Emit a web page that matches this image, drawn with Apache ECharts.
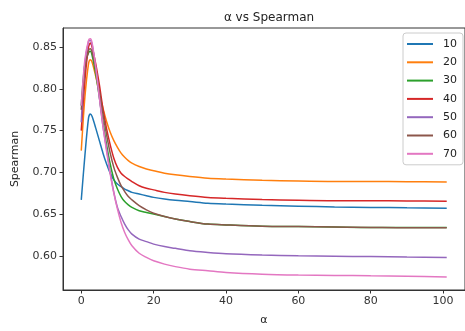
<!DOCTYPE html>
<html>
<head>
<meta charset="utf-8">
<script src="https://cdn.jsdelivr.net/npm/echarts@6/dist/echarts.min.js"></script>
<style>html,body{margin:0;padding:0;background:#fff;}#c{width:465px;height:331px;}</style>
</head>
<body>
<div id="c"></div>
<script>
const alphas = [0,1,2,2.5,3,4,5,6,7,8,9,10,11,12,13,14,16,18,20,23,26,30,35,40,50,60,70,80,90,101];
const seriesNames = ['10','20','30','40','50','60','70'];
const s10 = [0.667,0.720,0.765,0.770,0.767,0.753,0.738,0.723,0.710,0.699,0.691,0.686,0.683,0.680,0.678,0.676,0.674,0.672,0.670,0.668,0.6665,0.665,0.663,0.662,0.6605,0.6595,0.6585,0.658,0.6575,0.657];
const s20 = [0.726,0.790,0.830,0.835,0.832,0.815,0.795,0.777,0.761,0.748,0.738,0.730,0.723,0.718,0.714,0.711,0.707,0.704,0.702,0.699,0.697,0.695,0.693,0.692,0.6905,0.6895,0.689,0.689,0.6888,0.6885];
const s30 = [0.780,0.830,0.843,0.845,0.840,0.818,0.790,0.760,0.733,0.710,0.692,0.680,0.671,0.665,0.661,0.658,0.654,0.652,0.650,0.647,0.644,0.641,0.638,0.637,0.6355,0.635,0.6345,0.634,0.634,0.6338];
const s40 = [0.750,0.810,0.850,0.855,0.850,0.830,0.805,0.776,0.752,0.733,0.717,0.706,0.699,0.695,0.692,0.689,0.684,0.681,0.679,0.676,0.674,0.672,0.670,0.669,0.6675,0.6665,0.666,0.666,0.6658,0.6655];
const s50 = [0.760,0.830,0.857,0.858,0.853,0.825,0.790,0.755,0.728,0.700,0.676,0.658,0.647,0.638,0.631,0.626,0.620,0.617,0.614,0.611,0.609,0.606,0.604,0.6025,0.601,0.600,0.5995,0.599,0.5985,0.598];
const s60 = [0.775,0.825,0.846,0.848,0.844,0.824,0.797,0.770,0.745,0.723,0.706,0.694,0.684,0.677,0.671,0.667,0.660,0.655,0.651,0.647,0.644,0.641,0.638,0.637,0.6355,0.635,0.6345,0.634,0.6335,0.6335];
const s70 = [0.780,0.835,0.858,0.860,0.855,0.826,0.790,0.755,0.725,0.698,0.675,0.656,0.640,0.628,0.619,0.612,0.603,0.598,0.594,0.590,0.587,0.584,0.582,0.580,0.578,0.577,0.5765,0.576,0.5755,0.5745];
const xTicks = [0,20,40,60,80,100];
const yTicks = [0.60,0.65,0.70,0.75,0.80,0.85];
const colors = ['#1f77b4','#ff7f0e','#2ca02c','#d62728','#9467bd','#8c564b','#e377c2'];

const allSeries = [s10,s20,s30,s40,s50,s60,s70];
const font = 'DejaVu Sans';
const chart = echarts.init(document.getElementById('c'), null, {renderer:'canvas'});
chart.setOption({
  animation:false,
  backgroundColor:'#fff',
  color: colors,
  title:{text:'α vs Spearman', left:264, top:7, textAlign:'center',
    textStyle:{fontFamily:font, fontSize:12, fontWeight:'normal', color:'#222'}},
  grid:{left:63, right:-4, top:28, bottom:39, show:true, borderColor:'#333', borderWidth:1},
  legend:{
    orient:'vertical', left:403, top:33, data:seriesNames,
    icon:'rect', itemWidth:26, itemHeight:2, itemGap:4.3,
    textStyle:{fontFamily:font, fontSize:11, color:'#222', lineHeight:14, padding:[0,0,0,5]},
    borderColor:'#ccc', borderWidth:1, borderRadius:3, padding:[4,6,4,4], backgroundColor:'#fff'
  },
  xAxis:{type:'value', min:-5.05, max:106.05, name:'α', nameLocation:'middle', nameGap:25,
    nameTextStyle:{fontFamily:font, fontSize:11, color:'#222'},
    axisLine:{show:true, onZero:false, lineStyle:{color:'#333'}},
    axisTick:{show:true, length:3.5, lineStyle:{color:'#333'}, customValues:xTicks},
    axisLabel:{fontFamily:font, fontSize:11, color:'#333', customValues:xTicks, margin:6},
    splitLine:{show:false}},
  yAxis:{type:'value', min:0.559, max:0.873, name:'Spearman', nameLocation:'middle', nameGap:42,
    nameTextStyle:{fontFamily:font, fontSize:11, color:'#222'},
    axisLine:{show:true, onZero:false, lineStyle:{color:'#333'}},
    axisTick:{show:true, length:3.5, lineStyle:{color:'#333'}, customValues:yTicks},
    axisLabel:{fontFamily:font, fontSize:11, color:'#333', customValues:yTicks, margin:6,
      formatter:v=>v.toFixed(2)},
    splitLine:{show:false}},
  series: seriesNames.map((n,i)=>({
    name:n, type:'line', showSymbol:false, smooth:0.3,
    lineStyle:{width:1.5, color:colors[i]},
    data: alphas.map((a,j)=>[a, allSeries[i][j]])
  }))
});
</script>
</body>
</html>
